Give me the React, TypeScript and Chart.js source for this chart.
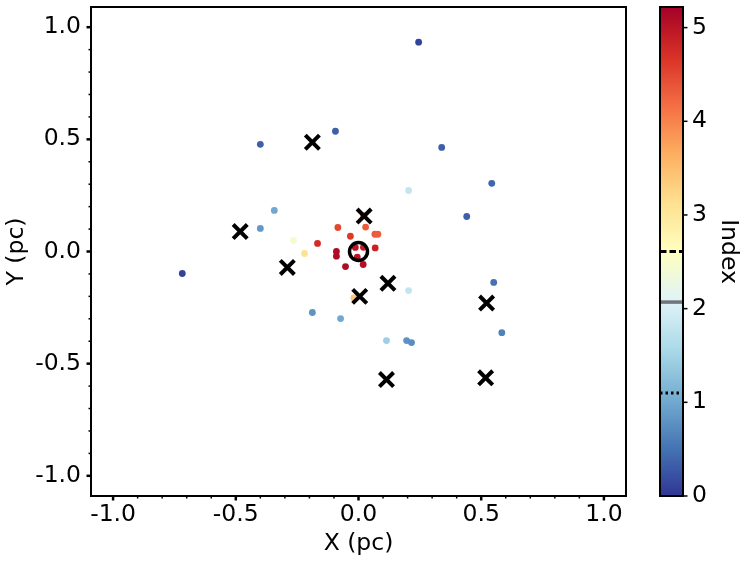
import React, { useEffect, useRef } from "react";
import { Chart, registerables } from "chart.js";

Chart.register(...registerables);

const FONT = "'DejaVu Sans', 'Liberation Sans', sans-serif";

// ---------------- data ----------------
const dotX = [0.245, -0.40, -0.094, 0.339, 0.543, 0.441, 0.204, -0.343, -0.40, -0.718, -0.265, -0.22, -0.167, 0.551, 0.204, -0.188, -0.073, 0.114, 0.196, 0.216, 0.584, -0.019, -0.084, 0.029, -0.033, 0.067, 0.079, -0.09, -0.09, -0.013, 0.02, 0.068, -0.005, 0.019, -0.053, 0.02];
const dotY = [0.933, 0.478, 0.536, 0.464, 0.304, 0.156, 0.272, 0.183, 0.103, -0.098, 0.049, -0.009, 0.036, -0.138, -0.174, -0.272, -0.299, -0.397, -0.397, -0.406, -0.362, -0.207, 0.107, 0.109, 0.068, 0.077, 0.077, 0.0, -0.021, 0.018, 0.019, 0.016, -0.025, -0.058, -0.067, 0.16];
const dotIndex = [0.1, 0.35, 0.35, 0.35, 0.4, 0.35, 1.8, 1.0, 0.85, 0.1, 2.45, 3.1, 4.75, 0.5, 1.8, 0.8, 1.0, 1.45, 0.8, 0.75, 0.65, 3.4, 4.5, 4.35, 4.6, 4.35, 4.3, 5.1, 5.1, 5.0, 4.9, 4.85, 5.0, 5.05, 5.1, 4.1];

const crossX = [-0.188, 0.023, -0.482, -0.29, 0.005, 0.12, 0.522, 0.114, 0.518];
const crossY = [0.487, 0.158, 0.089, -0.071, -0.2, -0.142, -0.23, -0.571, -0.563];

const centerX = [0];
const centerY = [0];

const axisTicks = [-1.0, -0.5, 0.0, 0.5, 1.0];
const cbTicks = [0, 1, 2, 3, 4, 5];
const VMAX = 5.22;
const dashedLevel = 2.61;
const solidLevel = 2.07;
const dottedLevel = 1.10;

// RdYlBu reversed
const cmapStops = ["#313695", "#4575b4", "#74add1", "#abd9e9", "#e0f3f8", "#ffffbf", "#fee090", "#fdae61", "#f46d43", "#d73027", "#a50026"];

function hexToRgb(h: string) {
  const n = parseInt(h.slice(1), 16);
  return [(n >> 16) & 255, (n >> 8) & 255, n & 255];
}
function cmap(v: number) {
  let t = Math.max(0, Math.min(1, v / VMAX)) * (cmapStops.length - 1);
  const i = Math.min(Math.floor(t), cmapStops.length - 2);
  const f = t - i;
  const a = hexToRgb(cmapStops[i]);
  const b = hexToRgb(cmapStops[i + 1]);
  const c = a.map((x, k) => Math.round(x + (b[k] - x) * f));
  return `rgb(${c[0]},${c[1]},${c[2]})`;
}

const fmt = (v: number) => (Math.abs(v) < 1e-9 ? "0.0" : v.toFixed(1));

const noPad = (s: any) => {
  s.paddingTop = 0;
  s.paddingBottom = 0;
  s.paddingLeft = 0;
  s.paddingRight = 0;
};

const framePlugin = {
  id: "frame",
  afterDraw(chart: any) {
    const { ctx, chartArea: a, scales } = chart;
    const xs = scales.x;
    const ys = scales.y;
    ctx.save();
    ctx.strokeStyle = "#000";
    for (let i = -10; i <= 10; i++) {
      const v = i / 10;
      const major = i % 5 === 0;
      const len = major ? 4.5 : 2.5;
      ctx.lineWidth = major ? 2.5 : 1.5;
      const px = xs.getPixelForValue(v);
      ctx.beginPath();
      ctx.moveTo(px, a.bottom);
      ctx.lineTo(px, a.bottom + len);
      ctx.stroke();
      const py = ys.getPixelForValue(v);
      ctx.beginPath();
      ctx.moveTo(a.left, py);
      ctx.lineTo(a.left - len, py);
      ctx.stroke();
    }
    ctx.lineWidth = 2;
    ctx.strokeRect(a.left, a.top, a.right - a.left, a.bottom - a.top);
    ctx.restore();
  },
};

const colorbarPlugin = {
  id: "colorbar",
  afterDraw(chart: any) {
    const { ctx, chartArea: a, scales } = chart;
    const ys = scales.y;
    const y0 = ys.getPixelForValue(0);
    const y1 = ys.getPixelForValue(VMAX);
    ctx.save();
    const g = ctx.createLinearGradient(0, y0, 0, y1);
    cmapStops.forEach((c, i) => g.addColorStop(i / (cmapStops.length - 1), c));
    ctx.fillStyle = g;
    ctx.fillRect(a.left, y1, a.right - a.left, y0 - y1);

    const hline = (v: number, color: string, w: number, dash: number[]) => {
      const py = ys.getPixelForValue(v);
      ctx.strokeStyle = color;
      ctx.lineWidth = w;
      ctx.setLineDash(dash);
      ctx.beginPath();
      ctx.moveTo(a.left, py);
      ctx.lineTo(a.right, py);
      ctx.stroke();
    };
    hline(dashedLevel, "#000", 3, [6.5, 3]);
    hline(solidLevel, "#6f7579", 3.5, []);
    hline(dottedLevel, "#000", 3, [2.5, 3]);
    ctx.setLineDash([]);

    ctx.strokeStyle = "#000";
    ctx.lineWidth = 1.5;
    cbTicks.forEach((v) => {
      const py = ys.getPixelForValue(v);
      ctx.beginPath();
      ctx.moveTo(a.right, py);
      ctx.lineTo(a.right + 4.5, py);
      ctx.stroke();
    });
    ctx.lineWidth = 2;
    ctx.strokeRect(a.left, y1, a.right - a.left, y0 - y1);
    ctx.restore();
  },
};

export default function App() {
  const mainRef = useRef<HTMLCanvasElement>(null);
  const cbRef = useRef<HTMLCanvasElement>(null);

  useEffect(() => {
    const font = { family: FONT, size: 23.5 };
    const main = new Chart(mainRef.current as HTMLCanvasElement, {
      type: "scatter",
      data: {
        datasets: [
          {
            data: crossX.map((x, i) => ({ x, y: crossY[i] })),
            pointStyle: "crossRot",
            pointRadius: 10,
            pointBorderWidth: 4,
            pointBorderColor: "#000",
            pointBackgroundColor: "#000",
            order: 0,
          },
          {
            data: centerX.map((x, i) => ({ x, y: centerY[i] })),
            pointStyle: "circle",
            pointRadius: 9,
            pointBorderWidth: 3.5,
            pointBorderColor: "#000",
            pointBackgroundColor: "rgba(0,0,0,0)",
            order: 1,
          },
          {
            data: dotX.map((x, i) => ({ x, y: dotY[i] })),
            pointStyle: "circle",
            pointRadius: 3.4,
            pointBorderWidth: 0,
            pointBackgroundColor: dotIndex.map(cmap),
            pointBorderColor: dotIndex.map(cmap),
            order: 2,
          },
        ],
      } as any,
      options: {
        responsive: false,
        animation: false,
        devicePixelRatio: 1,
        layout: { autoPadding: false, padding: { left: 0, top: 7, right: 117, bottom: 0 } },
        plugins: { legend: { display: false }, tooltip: { enabled: false } },
        scales: {
          x: {
            type: "linear",
            min: -1.09,
            max: 1.09,
            afterBuildTicks: (s: any) => {
              s.ticks = axisTicks.map((v) => ({ value: v }));
            },
            afterFit: (s: any) => {
              s.height = 68;
              noPad(s);
            },
            grid: { display: false, drawTicks: false },
            border: { display: false },
            ticks: { padding: 5, color: "#000", font, autoSkip: false, maxRotation: 0, callback: (v: any) => fmt(Number(v)) },
            title: { display: true, text: "X (pc)", color: "#000", font, padding: { top: 0, bottom: 6 } },
          },
          y: {
            type: "linear",
            min: -1.09,
            max: 1.09,
            afterBuildTicks: (s: any) => {
              s.ticks = axisTicks.map((v) => ({ value: v }));
            },
            afterFit: (s: any) => {
              s.width = 91;
              noPad(s);
            },
            grid: { display: false, drawTicks: false },
            border: { display: false },
            ticks: { padding: 10, color: "#000", font, autoSkip: false, callback: (v: any) => fmt(Number(v)) },
            title: { display: true, text: "Y (pc)", color: "#000", font, padding: { top: 3, bottom: 0 } },
          },
        },
      } as any,
      plugins: [framePlugin],
    });

    const cb = new Chart(cbRef.current as HTMLCanvasElement, {
      type: "scatter",
      data: { datasets: [] },
      options: {
        responsive: false,
        animation: false,
        devicePixelRatio: 1,
        layout: { autoPadding: false, padding: { left: 20, top: 7, right: 0, bottom: 68 } },
        plugins: { legend: { display: false }, tooltip: { enabled: false } },
        scales: {
          x: { type: "linear", display: false, min: 0, max: 1 },
          y: {
            type: "linear",
            position: "right",
            min: 0,
            max: VMAX,
            afterBuildTicks: (s: any) => {
              s.ticks = cbTicks.map((v) => ({ value: v }));
            },
            afterFit: (s: any) => {
              s.width = 60;
              noPad(s);
            },
            grid: { display: false, drawTicks: false },
            border: { display: false },
            ticks: { padding: 9, color: "#000", font, autoSkip: false, callback: (v: any) => String(v) },
            title: { display: true, text: "Index", color: "#000", font, padding: { top: 1, bottom: 0 } },
          },
        },
      } as any,
      plugins: [colorbarPlugin],
    });

    return () => {
      main.destroy();
      cb.destroy();
    };
  }, []);

  return (
    <div style={{ position: "absolute", left: 0, top: 0, width: 743, height: 564, background: "#fff" }}>
      <canvas ref={mainRef} width={743} height={564} style={{ position: "absolute", left: 0, top: 0, width: 743, height: 564 }} />
      <canvas ref={cbRef} width={103} height={564} style={{ position: "absolute", left: 640, top: 0, width: 103, height: 564 }} />
    </div>
  );
}
